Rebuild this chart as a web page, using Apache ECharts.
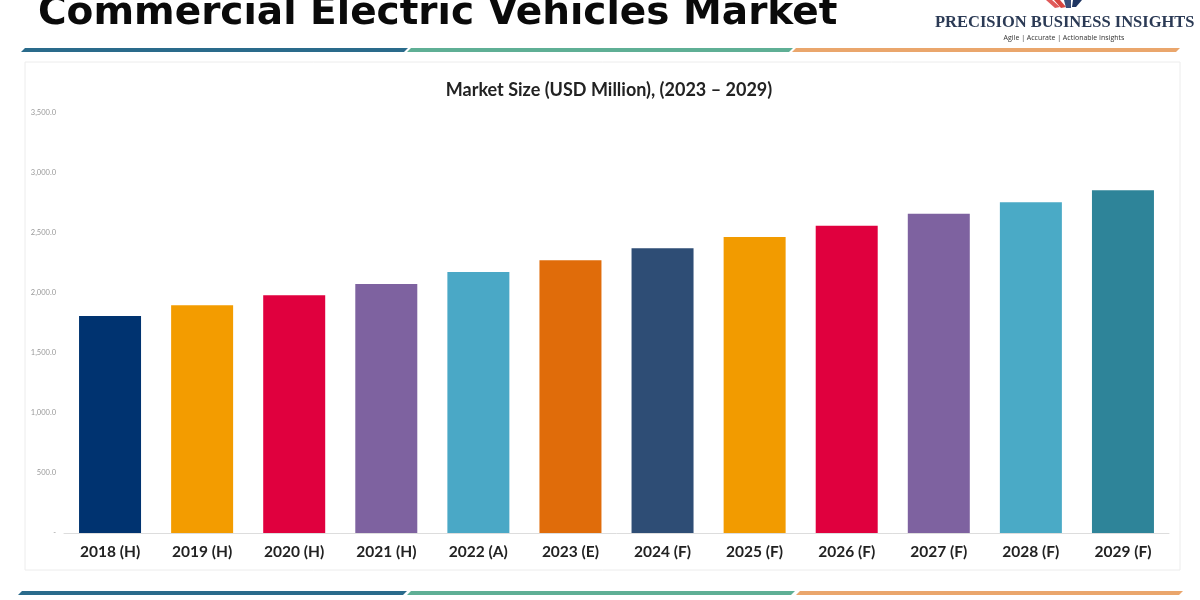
<!DOCTYPE html>
<html>
<head>
<meta charset="utf-8">
<script src="https://cdn.jsdelivr.net/npm/echarts@6/dist/echarts.min.js"></script>
<style>html,body{margin:0;padding:0;background:#fff;}#c{width:1200px;height:600px;}</style>
</head>
<body>
<div id="c"></div>
<script>
var categories = ['2018 (H)','2019 (H)','2020 (H)','2021 (H)','2022 (A)','2023 (E)','2024 (F)','2025 (F)','2026 (F)','2027 (F)','2028 (F)','2029 (F)'];
var marketSize = [1808, 1897, 1981, 2075, 2175, 2272, 2372, 2467, 2561, 2661, 2756, 2856];
var barColors = ['#003370','#f39c00','#e0003e','#7e62a0','#4aa8c6','#e06c0a','#2e4d75','#f29b00','#e0003e','#7e62a0','#4aaac6','#2e8499'];
var yTicks = [0, 500, 1000, 1500, 2000, 2500, 3000, 3500];

var chart = echarts.init(document.getElementById('c'));

function fmt(v){
  if (v === 0) return '-';
  var s = Math.round(v).toString().replace(/\B(?=(\d{3})+(?!\d))/g, ',');
  return s + '.0';
}

function stripe(y, x1, x2, color){
  return {
    type: 'polygon',
    shape: {points: [[x1 + 3, y - 2], [x2 + 3, y - 2], [x2 - 1, y + 2], [x1 - 1, y + 2]]},
    style: {fill: color},
    z: 10
  };
}

var option = {
  backgroundColor: '#ffffff',
  animation: false,
  title: {
    text: 'Market Size (USD Million), (2023 – 2029)',
    left: 604, top: 76, textAlign: 'center',
    textStyle: {fontFamily: 'Lato', fontWeight: 'bold', fontSize: 18, color: '#222'}
  },
  grid: {left: 64, right: 31, top: 113, bottom: 67},
  xAxis: {
    type: 'category',
    data: categories,
    axisLine: {show: true, lineStyle: {color: '#dddddd', width: 1}},
    axisTick: {show: false},
    axisLabel: {fontFamily: 'Lato', fontWeight: 'bold', fontSize: 15.5, color: '#222', margin: 11}
  },
  yAxis: {
    type: 'value',
    min: 0, max: 3500, interval: 500,
    splitLine: {show: false},
    axisLine: {show: false},
    axisTick: {show: false},
    axisLabel: {fontFamily: 'Lato', fontSize: 7.5, color: '#999', margin: 8, formatter: fmt}
  },
  series: [{
    type: 'bar',
    data: marketSize.map(function(v, i){ return {value: v, itemStyle: {color: barColors[i]}}; }),
    barWidth: 62
  }],
  graphic: [
    {type: 'rect', shape: {x: 25, y: 62, width: 1155, height: 508}, style: {fill: 'none', stroke: '#ececec', lineWidth: 1}, z: -1},
    {type: 'text', x: 38, y: -6, style: {text: 'Commercial Electric Vehicles Market', font: 'bold 39px "DejaVu Sans", sans-serif', fill: '#0a0a0a'}},
    stripe(50, 22, 405, '#2a6b8b'),
    stripe(50, 408, 790, '#5faf95'),
    stripe(50, 793, 1177, '#eaa66c'),
    stripe(593, 19, 404, '#2a6b8b'),
    stripe(593, 408, 792, '#5faf95'),
    stripe(593, 797, 1180, '#eaa66c'),
    {type: 'text', x: 935, y: 14, style: {text: 'PRECISION BUSINESS INSIGHTS', font: 'bold 16.5px "Liberation Serif", serif', fill: '#2b3a55'}},
    {type: 'text', x: 1064, y: 34, style: {text: 'Agile | Accurate | Actionable Insights', font: '7px "Open Sans", sans-serif', fill: '#333', align: 'center'}},
    {type: 'polygon', shape: {points: [[1046, 0], [1052, 0], [1060, 7], [1055, 8]]}, style: {fill: '#e05a5a'}},
    {type: 'polygon', shape: {points: [[1054, 0], [1060, 0], [1066, 7], [1061, 8]]}, style: {fill: '#d8453f'}},
    {type: 'polygon', shape: {points: [[1064, 0], [1071, 0], [1071, 8], [1066, 8]]}, style: {fill: '#3a4f7a'}},
    {type: 'polygon', shape: {points: [[1073, 0], [1082, 0], [1076, 7], [1072, 7]]}, style: {fill: '#1f3562'}}
  ]
};
chart.setOption(option);
</script>
</body>
</html>
